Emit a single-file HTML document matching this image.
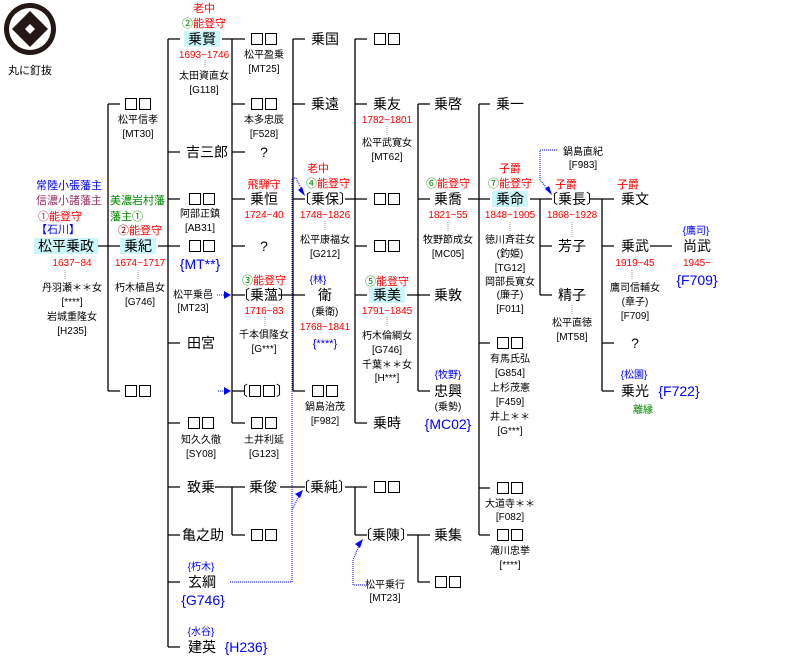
<!DOCTYPE html>
<html><head><meta charset="utf-8">
<style>
body{margin:0;background:#fff;width:789px;height:671px;position:relative;overflow:hidden;font-family:"Liberation Sans","Noto Sans CJK JP",sans-serif;color:#000}
.n,.s,.l{position:absolute;white-space:nowrap}
.n{font-size:14px;line-height:16px;width:120px;margin-left:-60px;text-align:center}
.s{font-size:10px;line-height:13px;width:120px;margin-left:-60px;text-align:center}
.l{font-size:10px;line-height:13px}
.r{color:#f00}.b{color:#00f}.g{color:#080}.p{color:#936}
.bg{background:#ccf7fa;padding:0 4px}
.q{display:inline-block;width:12px;height:12px;border:1.4px solid #000;margin:0 1px;vertical-align:-1px;box-sizing:border-box}
</style></head><body>
<svg width="789" height="671" style="position:absolute;left:0;top:0">
<g stroke="#000" stroke-width="1.3" fill="none">
<path d="M96 246H120M108 104V391M108 104H120M108 391H120"/>
<path d="M158 246H180M168 39V647M168 39H180M168 152H180M168 199H180M168 343H180M168 423H180M168 487H180M168 535H180M168 582H180M168 647H180"/>
<path d="M222 39H245M232 39V423M232 104H245M232 152H245M232 199H245M232 246H245M232 295H245M232 391H245M232 423H245"/>
<path d="M215 487H245M232 487V535M232 535H245"/>
<path d="M278 295H305M293 39V391M293 39H305M293 104H305M293 199H305M293 391H305"/>
<path d="M345 199H367M355 39V423M355 39H367M355 104H367M355 246H367M355 295H367M355 423H367"/>
<path d="M407 295H430M418 104V391M418 104H430M418 199H430M418 391H430"/>
<path d="M468 199H490M479 104V535M479 104H490M479 343H490M479 488H490M479 535H490"/>
<path d="M530 199H552M540 199V295M540 246H552M540 295H552"/>
<path d="M590 199H614M602 199V391M602 246H614M602 343H614M602 391H614"/>
<path d="M650 246H672"/>
<path d="M280 487H305"/>
<path d="M345 487H367M355 487V535M355 535H367"/>
<path d="M407 535H430M418 535V582M418 582H430"/>
</g>
<g stroke="#999" stroke-width="1" stroke-dasharray="1,1">
<path d="M65 270V280M138 270V280M205 60V68M265 317V327M325 221V231M387 126V135M387 317V327M448 222V231M510 222V231M572 222V238M572 305V315M632 270V280"/>
</g>
<g stroke="#00f" stroke-width="1" stroke-dasharray="1,1" fill="none">
<path d="M230 582H292V178H296L303 192"/>
<path d="M292 510L300 494"/>
<path d="M365 585H353V560L360 543"/>
<path d="M557 150H540V180L550 192"/>
<path d="M217 295H228M218 391H228"/>
</g>
<g fill="#00f">
<path d="M305 196L298 190L302 187Z"/>
<path d="M303 490L295 494L300 498Z"/>
<path d="M363 539L355 544L360 548Z"/>
<path d="M552 195L545 189L549 186Z"/>
<path d="M231 295L224 291V299Z"/>
<path d="M231 391L224 387V395Z"/>
</g>
<circle cx="30" cy="29" r="26" fill="#231815"/>
<circle cx="30" cy="29" r="21" fill="#fff"/>
<path d="M30 11L48 29L30 47L12 29Z" fill="#231815"/>
<path d="M30 24L35 29L30 34L25 29Z" fill="#fff"/>
</svg>
<div class="s" style="left:30px;top:65px;font-size:11px">丸に釘抜</div>

<!-- col A -->
<div class="l b" style="left:36px;top:180px;font-size:11px">常陸小張藩主</div>
<div class="l p" style="left:36px;top:195px;font-size:11px">信濃小諸藩主</div>
<div class="l" style="left:38px;top:211px;font-size:11px"><span class="p">①</span><span class="r">能登守</span></div>
<div class="l b" style="left:36px;top:224px;font-size:11px">【石川】</div>
<div class="n" style="left:66px;top:238px"><span class="bg">松平乗政</span></div>
<div class="s r" style="left:72px;top:257px">1637~84</div>
<div class="s" style="left:72px;top:282px">丹羽瀬＊＊女</div>
<div class="s" style="left:72px;top:296px">[****]</div>
<div class="s" style="left:72px;top:311px">岩城重隆女</div>
<div class="s" style="left:72px;top:325px">[H235]</div>

<!-- col B -->
<div class="n" style="left:138px;top:96px"><span class="q"></span><span class="q"></span></div>
<div class="s" style="left:138px;top:114px">松平信孝</div>
<div class="s" style="left:138px;top:128px">[MT30]</div>
<div class="l g" style="left:110px;top:195px;font-size:11px">美濃岩村藩</div>
<div class="l g" style="left:110px;top:211px;font-size:11px">藩主①</div>
<div class="s" style="left:140px;top:225px;font-size:11px"><span style="color:#900">②</span><span class="r">能登守</span></div>
<div class="n" style="left:138px;top:238px"><span class="bg">乗紀</span></div>
<div class="s r" style="left:140px;top:257px">1674~1717</div>
<div class="s" style="left:140px;top:282px">朽木植昌女</div>
<div class="s" style="left:140px;top:296px">[G746]</div>
<div class="n" style="left:138px;top:383px"><span class="q"></span><span class="q"></span></div>

<!-- col C -->
<div class="s r" style="left:204px;top:3px;font-size:11px">老中</div>
<div class="s" style="left:204px;top:18px;font-size:11px"><span class="g">②</span><span class="r">能登守</span></div>
<div class="n" style="left:202px;top:31px"><span class="bg">乗賢</span></div>
<div class="s r" style="left:204px;top:49px">1693~1746</div>
<div class="s" style="left:204px;top:70px">太田資直女</div>
<div class="s" style="left:204px;top:84px">[G118]</div>
<div class="n" style="left:207px;top:144px">吉三郎</div>
<div class="n" style="left:202px;top:191px"><span class="q"></span><span class="q"></span></div>
<div class="s" style="left:200px;top:208px">阿部正鎮</div>
<div class="s" style="left:200px;top:222px">[AB31]</div>
<div class="n" style="left:202px;top:238px"><span class="q"></span><span class="q"></span></div>
<div class="n b" style="left:200px;top:256px">{MT**}</div>
<div class="s" style="left:193px;top:289px">松平乗邑</div>
<div class="s" style="left:193px;top:302px">[MT23]</div>
<div class="n" style="left:201px;top:335px">田宮</div>
<div class="n" style="left:201px;top:415px"><span class="q"></span><span class="q"></span></div>
<div class="s" style="left:201px;top:434px">知久久徹</div>
<div class="s" style="left:201px;top:448px">[SY08]</div>
<div class="n" style="left:201px;top:479px">致乗</div>
<div class="n" style="left:203px;top:527px">亀之助</div>
<div class="s b" style="left:201px;top:561px">{朽木}</div>
<div class="n" style="left:202px;top:574px">玄綱</div>
<div class="n b" style="left:203px;top:592px">{G746}</div>
<div class="s b" style="left:201px;top:626px">{水谷}</div>
<div class="n" style="left:202px;top:639px">建英</div>
<div class="n b" style="left:246px;top:639px">{H236}</div>

<!-- col D -->
<div class="n" style="left:264px;top:31px"><span class="q"></span><span class="q"></span></div>
<div class="s" style="left:264px;top:49px">松平盈乗</div>
<div class="s" style="left:264px;top:63px">[MT25]</div>
<div class="n" style="left:264px;top:96px"><span class="q"></span><span class="q"></span></div>
<div class="s" style="left:264px;top:114px">本多忠辰</div>
<div class="s" style="left:264px;top:128px">[F528]</div>
<div class="n" style="left:264px;top:144px">?</div>
<div class="s r" style="left:264px;top:179px;font-size:11px">飛騨守</div>
<div class="n" style="left:264px;top:191px">乗恒</div>
<div class="s r" style="left:264px;top:209px">1724~40</div>
<div class="n" style="left:264px;top:238px">?</div>
<div class="s" style="left:264px;top:275px;font-size:11px"><span class="g">③</span><span class="r">能登守</span></div>
<div class="n" style="left:264px;top:287px">〔乗薀〕</div>
<div class="s r" style="left:264px;top:305px">1716~83</div>
<div class="s" style="left:264px;top:329px">千本俱隆女</div>
<div class="s" style="left:264px;top:343px">[G***]</div>
<div class="n" style="left:262px;top:383px">〔<span class="q"></span><span class="q"></span>〕</div>
<div class="n" style="left:264px;top:415px"><span class="q"></span><span class="q"></span></div>
<div class="s" style="left:264px;top:434px">土井利延</div>
<div class="s" style="left:264px;top:448px">[G123]</div>
<div class="n" style="left:263px;top:479px">乗俊</div>
<div class="n" style="left:264px;top:527px"><span class="q"></span><span class="q"></span></div>

<!-- col E -->
<div class="n" style="left:325px;top:31px">乗国</div>
<div class="n" style="left:325px;top:96px">乗遠</div>
<div class="s r" style="left:318px;top:163px;font-size:11px">老中</div>
<div class="s" style="left:328px;top:178px;font-size:11px"><span class="g">④</span><span class="r">能登守</span></div>
<div class="n" style="left:325px;top:191px">〔乗保〕</div>
<div class="s r" style="left:325px;top:209px">1748~1826</div>
<div class="s" style="left:325px;top:234px">松平康福女</div>
<div class="s" style="left:325px;top:248px">[G212]</div>
<div class="s b" style="left:318px;top:274px">{林}</div>
<div class="n" style="left:325px;top:287px">衛</div>
<div class="s" style="left:325px;top:306px">(乗衛)</div>
<div class="s r" style="left:325px;top:321px">1768~1841</div>
<div class="s b" style="left:325px;top:338px;font-size:11px">{****}</div>
<div class="n" style="left:325px;top:383px"><span class="q"></span><span class="q"></span></div>
<div class="s" style="left:325px;top:401px">鍋島治茂</div>
<div class="s" style="left:325px;top:415px">[F982]</div>
<div class="n" style="left:324px;top:479px">〔乗純〕</div>

<!-- col F -->
<div class="n" style="left:387px;top:31px"><span class="q"></span><span class="q"></span></div>
<div class="n" style="left:387px;top:96px">乗友</div>
<div class="s r" style="left:387px;top:114px">1782~1801</div>
<div class="s" style="left:387px;top:137px">松平武寛女</div>
<div class="s" style="left:387px;top:151px">[MT62]</div>
<div class="n" style="left:387px;top:191px"><span class="q"></span><span class="q"></span></div>
<div class="n" style="left:387px;top:238px"><span class="q"></span><span class="q"></span></div>
<div class="s" style="left:387px;top:276px;font-size:11px"><span class="g">⑤</span><span class="r">能登守</span></div>
<div class="n" style="left:387px;top:287px"><span class="bg">乗美</span></div>
<div class="s r" style="left:387px;top:305px">1791~1845</div>
<div class="s" style="left:387px;top:330px">朽木倫綱女</div>
<div class="s" style="left:387px;top:344px">[G746]</div>
<div class="s" style="left:387px;top:359px">千葉＊＊女</div>
<div class="s" style="left:387px;top:372px">[H***]</div>
<div class="n" style="left:387px;top:415px">乗時</div>
<div class="n" style="left:387px;top:479px"><span class="q"></span><span class="q"></span></div>
<div class="n" style="left:386px;top:527px">〔乗陳〕</div>
<div class="s" style="left:385px;top:579px">松平乗行</div>
<div class="s" style="left:385px;top:592px">[MT23]</div>

<!-- col G -->
<div class="n" style="left:448px;top:96px">乗啓</div>
<div class="s" style="left:448px;top:178px;font-size:11px"><span class="g">⑥</span><span class="r">能登守</span></div>
<div class="n" style="left:448px;top:191px">乗喬</div>
<div class="s r" style="left:448px;top:209px">1821~55</div>
<div class="s" style="left:448px;top:234px">牧野節成女</div>
<div class="s" style="left:448px;top:248px">[MC05]</div>
<div class="n" style="left:448px;top:287px">乗敦</div>
<div class="s b" style="left:448px;top:369px">{牧野}</div>
<div class="n" style="left:448px;top:383px">忠興</div>
<div class="s" style="left:448px;top:401px">(乗勢)</div>
<div class="n b" style="left:448px;top:416px">{MC02}</div>
<div class="n" style="left:448px;top:527px">乗集</div>
<div class="n" style="left:448px;top:574px"><span class="q"></span><span class="q"></span></div>

<!-- col H -->
<div class="n" style="left:510px;top:96px">乗一</div>
<div class="s r" style="left:510px;top:163px;font-size:11px">子爵</div>
<div class="s" style="left:510px;top:178px;font-size:11px"><span class="g">⑦</span><span class="r">能登守</span></div>
<div class="n" style="left:510px;top:191px"><span class="bg">乗命</span></div>
<div class="s r" style="left:510px;top:209px">1848~1905</div>
<div class="s" style="left:510px;top:234px">徳川斉荘女</div>
<div class="s" style="left:510px;top:248px">(釣姫)</div>
<div class="s" style="left:510px;top:262px">[TG12]</div>
<div class="s" style="left:510px;top:276px">岡部長寛女</div>
<div class="s" style="left:510px;top:289px">(廉子)</div>
<div class="s" style="left:510px;top:303px">[F011]</div>
<div class="n" style="left:510px;top:335px"><span class="q"></span><span class="q"></span></div>
<div class="s" style="left:510px;top:353px">有馬氏弘</div>
<div class="s" style="left:510px;top:367px">[G854]</div>
<div class="s" style="left:510px;top:382px">上杉茂憲</div>
<div class="s" style="left:510px;top:396px">[F459]</div>
<div class="s" style="left:510px;top:411px">井上＊＊</div>
<div class="s" style="left:510px;top:425px">[G***]</div>
<div class="n" style="left:510px;top:480px"><span class="q"></span><span class="q"></span></div>
<div class="s" style="left:510px;top:498px">大道寺＊＊</div>
<div class="s" style="left:510px;top:511px">[F082]</div>
<div class="n" style="left:510px;top:527px"><span class="q"></span><span class="q"></span></div>
<div class="s" style="left:510px;top:545px">滝川忠挙</div>
<div class="s" style="left:510px;top:559px">[****]</div>

<!-- col I -->
<div class="s" style="left:583px;top:146px">鍋島直紀</div>
<div class="s" style="left:583px;top:159px">[F983]</div>
<div class="s r" style="left:566px;top:179px;font-size:11px">子爵</div>
<div class="n" style="left:572px;top:191px">〔乗長〕</div>
<div class="s r" style="left:572px;top:209px">1868~1928</div>
<div class="n" style="left:572px;top:238px">芳子</div>
<div class="n" style="left:572px;top:287px">精子</div>
<div class="s" style="left:572px;top:317px">松平直徳</div>
<div class="s" style="left:572px;top:331px">[MT58]</div>

<!-- col J -->
<div class="s r" style="left:628px;top:179px;font-size:11px">子爵</div>
<div class="n" style="left:635px;top:191px">乗文</div>
<div class="n" style="left:635px;top:238px">乗武</div>
<div class="s r" style="left:635px;top:257px">1919~45</div>
<div class="s" style="left:635px;top:282px">鷹司信輔女</div>
<div class="s" style="left:635px;top:296px">(章子)</div>
<div class="s" style="left:635px;top:310px">[F709]</div>
<div class="n" style="left:635px;top:335px">?</div>
<div class="s b" style="left:634px;top:369px">{松園}</div>
<div class="n" style="left:635px;top:383px">乗光</div>
<div class="s g" style="left:643px;top:404px">離縁</div>
<div class="n b" style="left:679px;top:383px">{F722}</div>

<!-- col K -->
<div class="s b" style="left:696px;top:225px">{鷹司}</div>
<div class="n" style="left:697px;top:238px">尚武</div>
<div class="s r" style="left:697px;top:257px">1945~</div>
<div class="n b" style="left:697px;top:272px">{F709}</div>
</body></html>
